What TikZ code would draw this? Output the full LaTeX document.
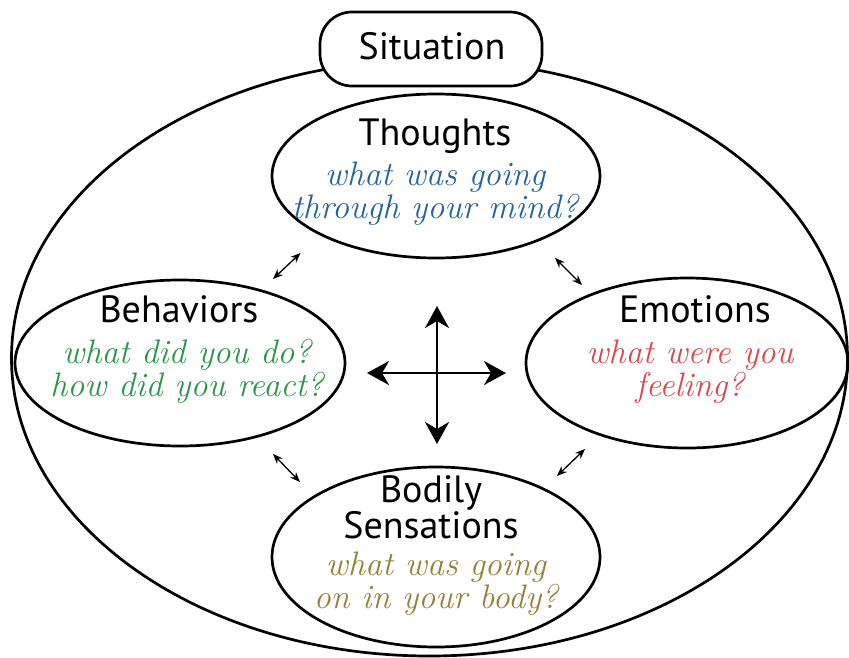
\documentclass[tikz,border=0pt]{standalone}
\usepackage{fontspec}
\newfontfamily\labelfont{PT Sans}
\usetikzlibrary{shapes.geometric,arrows.meta}
\definecolor{thoughtblue}{RGB}{38,100,158}
\definecolor{behavegreen}{RGB}{44,150,72}
\definecolor{emotred}{RGB}{218,72,76}
\definecolor{bodyolive}{RGB}{152,128,56}
\begin{document}
\begin{tikzpicture}[x=1pt,y=-1pt,
  ring/.style={draw,line width=2.7pt,ellipse,inner sep=0pt},
  sitbox/.style={draw,fill=white,line width=2.7pt,rectangle,rounded corners=32pt,inner sep=0pt},
  title/.style={font=\labelfont\fontsize{38}{33}\selectfont,anchor=base,inner sep=0pt,align=center},
  hand/.style={font=\itshape\fontsize{34}{30}\selectfont,anchor=base,inner sep=0pt,align=center},
  smallarrow/.style={{Stealth[length=10pt,width=8pt]}-{Stealth[length=10pt,width=8pt]},line width=1.3pt},
  bigarrow/.style={-{Stealth[length=22pt,width=24pt,inset=7pt]},line width=2.6pt}]
\useasboundingbox (0,0) rectangle (849,657);
\node[ring,minimum width=836pt,minimum height=596pt] (outer) at (429.5,358) {};
\node[sitbox,minimum width=222pt,minimum height=74pt] (sit) at (431,49) {};
\node[title] (sittext) at (432,59) {Situation};

\node[ring,minimum width=328pt,minimum height=164pt] (thoughts) at (436,176) {};
\node[ring,minimum width=330pt,minimum height=166pt] (behav) at (180,363) {};
\node[ring,minimum width=322pt,minimum height=170pt] (emot) at (687,363) {};
\node[ring,minimum width=328pt,minimum height=180pt] (body) at (436,557) {};

\node[title] (t1) at (435,145) {Thoughts};
\node[hand,text=thoughtblue] (t2) at (435,218) {what was going\\through your mind?};

\node[title] (b1) at (179,322) {Behaviors};
\node[hand,text=behavegreen] (b2) at (187,396) {what did you do?\\how did you react?};

\node[title] (e1) at (695,322) {Emotions};
\node[hand,text=emotred] (e2) at (690,396) {what were you\\feeling?};

\node[title] (s1) at (431,538) {Bodily\\Sensations};
\node[hand,text=bodyolive] (s3) at (436,608) {what was going\\on in your body?};

\coordinate (a1s) at (273,279);
\coordinate (a1e) at (300.5,253);
\coordinate (a2s) at (555,258);
\coordinate (a2e) at (582,285);
\coordinate (a3s) at (273,454);
\coordinate (a3e) at (300,482);
\coordinate (a4s) at (585,449);
\coordinate (a4e) at (557,476);
\draw[smallarrow] (a1s) -- (a1e);
\draw[smallarrow] (a2s) -- (a2e);
\draw[smallarrow] (a3s) -- (a3e);
\draw[smallarrow] (a4s) -- (a4e);

\coordinate (cc) at (437,373);
\coordinate (cn) at (437,306);
\coordinate (cs) at (437,444);
\coordinate (cw) at (367,373);
\coordinate (ce) at (506,373);
\draw[bigarrow] (cc) -- (cn);
\draw[bigarrow] (cc) -- (cs);
\draw[bigarrow] (cc) -- (cw);
\draw[bigarrow] (cc) -- (ce);
\end{tikzpicture}
\end{document}
